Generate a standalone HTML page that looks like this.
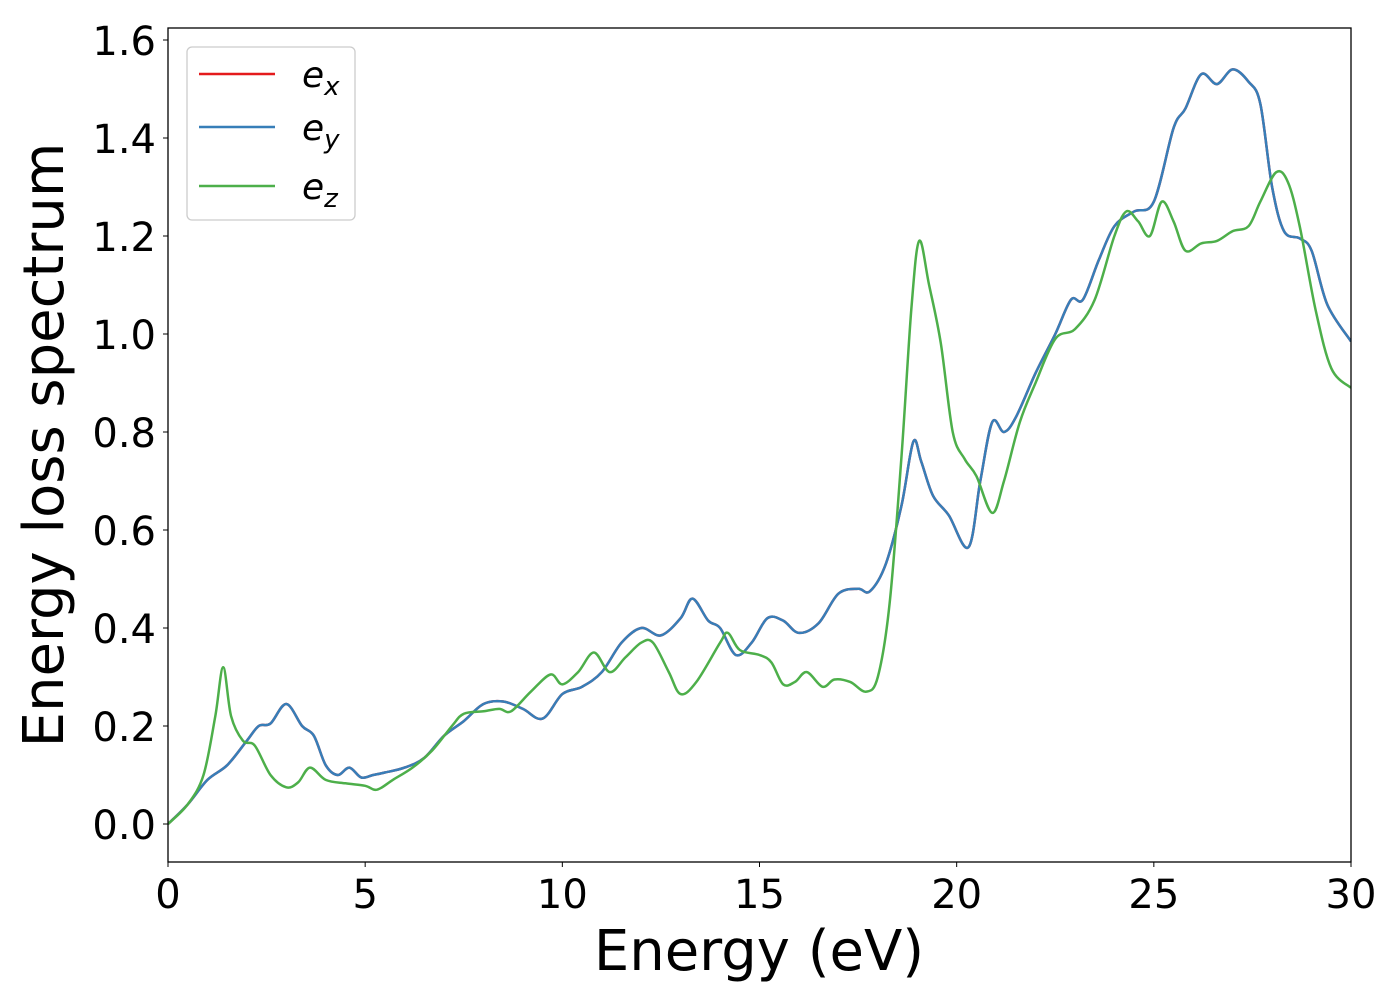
<!DOCTYPE html>
<html><head><meta charset="utf-8"><style>
html,body{margin:0;padding:0;background:#fff;}
svg text{font-family:"DejaVu Sans","Liberation Sans",sans-serif;fill:#000;}
</style></head><body>
<svg id="chart" width="1400" height="1000" xmlns="http://www.w3.org/2000/svg">
<defs><clipPath id="clip"><rect x="168" y="28" width="1183" height="834"/></clipPath></defs>
<rect x="0" y="0" width="1400" height="1000" fill="#fff"/>
<g id="grid-lines"></g>
<g id="series" clip-path="url(#clip)"></g>
<rect x="168" y="28" width="1183" height="834" fill="none" stroke="#000" stroke-width="1.3"/>
<g id="x-ticks"></g><g id="y-ticks"></g>
<text x="759" y="970" font-size="56" text-anchor="middle">Energy (eV)</text>
<text x="0" y="0" font-size="56" text-anchor="middle" transform="translate(63,445) rotate(-90)">Energy loss spectrum</text>
<g>
<rect x="187" y="47" width="168" height="173" rx="5" fill="#fff" stroke="#ccc" stroke-width="1.3"/>
<g><line x1="199" y1="74" x2="275" y2="74" stroke="#e41a1c" stroke-width="2.5"/><text x="302" y="87" font-size="36" font-style="italic">e<tspan font-size="26" dy="8">x</tspan></text></g>
<g><line x1="199" y1="127" x2="275" y2="127" stroke="#377eb8" stroke-width="2.5"/><text x="302" y="140" font-size="36" font-style="italic">e<tspan font-size="26" dy="8">y</tspan></text></g>
<g><line x1="199" y1="186" x2="275" y2="186" stroke="#4daf4a" stroke-width="2.5"/><text x="302" y="199" font-size="36" font-style="italic">e<tspan font-size="26" dy="8">z</tspan></text></g>
</g>
</svg>
<script>
const xTicks=[0,5,10,15,20,25,30];
const yTicks=[0.0,0.2,0.4,0.6,0.8,1.0,1.2,1.4,1.6];
const exyX=[0,0.5,1,1.5,2,2.3,2.6,3.0,3.4,3.7,4.0,4.3,4.6,4.9,5.2,5.5,6,6.5,7,7.5,8,8.5,9,9.5,10,10.5,11,11.5,12,12.5,13,13.3,13.7,14,14.4,14.8,15.2,15.6,16,16.5,17,17.5,17.8,18.2,18.6,18.9,19.1,19.4,19.8,20.3,20.6,20.9,21.2,21.5,22,22.5,22.9,23.2,23.6,24,24.5,25,25.5,25.8,26.2,26.6,27,27.4,27.7,28,28.3,28.7,29,29.4,30];
const exyY=[0,0.04,0.09,0.12,0.17,0.2,0.205,0.245,0.2,0.18,0.12,0.1,0.115,0.095,0.1,0.105,0.115,0.135,0.18,0.21,0.245,0.25,0.235,0.215,0.265,0.28,0.31,0.37,0.4,0.385,0.42,0.46,0.415,0.4,0.345,0.37,0.42,0.415,0.39,0.41,0.47,0.48,0.475,0.53,0.65,0.78,0.74,0.67,0.63,0.565,0.7,0.82,0.8,0.83,0.92,1.0,1.07,1.07,1.15,1.22,1.25,1.27,1.42,1.46,1.53,1.51,1.54,1.515,1.47,1.3,1.21,1.195,1.17,1.06,0.985];
const ezX=[0,0.5,0.9,1.2,1.4,1.6,1.9,2.2,2.6,3,3.3,3.6,4,4.5,5,5.3,5.7,6.2,6.7,7.2,7.5,8,8.4,8.7,9.2,9.7,10,10.4,10.8,11.2,11.6,12,12.3,12.7,13,13.4,14,14.2,14.5,15,15.3,15.6,15.9,16.2,16.6,16.9,17.3,17.7,18,18.3,18.6,18.85,19.05,19.3,19.6,19.9,20.2,20.5,20.9,21.2,21.6,22,22.5,23,23.5,24,24.3,24.6,24.9,25.2,25.5,25.8,26.2,26.6,27,27.4,27.7,28.1,28.4,28.7,29.1,29.5,30];
const ezY=[0,0.04,0.1,0.22,0.32,0.22,0.17,0.16,0.1,0.075,0.085,0.115,0.09,0.083,0.078,0.07,0.09,0.115,0.15,0.2,0.225,0.23,0.235,0.23,0.27,0.305,0.285,0.31,0.35,0.31,0.34,0.37,0.37,0.31,0.265,0.29,0.37,0.39,0.355,0.345,0.33,0.285,0.29,0.31,0.28,0.295,0.29,0.27,0.3,0.45,0.75,1.05,1.19,1.1,0.98,0.8,0.745,0.71,0.635,0.7,0.82,0.9,0.99,1.01,1.07,1.2,1.25,1.23,1.2,1.27,1.23,1.17,1.185,1.19,1.21,1.22,1.27,1.33,1.31,1.22,1.05,0.93,0.89];
const NS='http://www.w3.org/2000/svg';
const X0=168,X1=1351,Y0=824,YPER=490;
function sx(v){return X0+(v/30)*(X1-X0);}
function sy(v){return Y0-v*YPER;}
function pathD(xs,ys){
  const p=xs.map((x,i)=>[sx(x),sy(ys[i])]);
  let d='M'+p[0][0].toFixed(1)+','+p[0][1].toFixed(1);
  for(let i=0;i<p.length-1;i++){
    const a=p[Math.max(0,i-1)],b=p[i],c=p[i+1],e=p[Math.min(p.length-1,i+2)];
    const c1=[b[0]+(c[0]-a[0])/6,b[1]+(c[1]-a[1])/6],c2=[c[0]-(e[0]-b[0])/6,c[1]-(e[1]-b[1])/6];
    d+='C'+c1[0].toFixed(1)+','+c1[1].toFixed(1)+' '+c2[0].toFixed(1)+','+c2[1].toFixed(1)+' '+c[0].toFixed(1)+','+c[1].toFixed(1);
  }
  return d;
}
const g=document.getElementById('series');
function addLine(xs,ys,color,name){
  const el=document.createElementNS(NS,'path');
  el.setAttribute('d',pathD(xs,ys));
  el.setAttribute('fill','none');el.setAttribute('stroke',color);el.setAttribute('stroke-width','2.5');
  
  
  g.appendChild(el);
}
addLine(exyX,exyY,'#e41a1c','series-ex');
addLine(exyX,exyY,'#377eb8','series-ey');
addLine(ezX,ezY,'#4daf4a','series-ez');
const xt=document.getElementById('x-ticks');
xTicks.forEach(v=>{
  const l=document.createElementNS(NS,'line');
  l.setAttribute('x1',sx(v));l.setAttribute('x2',sx(v));l.setAttribute('y1',862);l.setAttribute('y2',867);l.setAttribute('stroke','#000');
  
  
  xt.appendChild(l);
  const t=document.createElementNS(NS,'text');
  t.setAttribute('x',sx(v));t.setAttribute('y',908);t.setAttribute('font-size','40');t.setAttribute('text-anchor','middle');
  t.textContent=String(v);
  
  
  xt.appendChild(t);
});
const yt=document.getElementById('y-ticks');
yTicks.forEach(v=>{
  const l=document.createElementNS(NS,'line');
  l.setAttribute('x1',163);l.setAttribute('x2',168);l.setAttribute('y1',sy(v));l.setAttribute('y2',sy(v));l.setAttribute('stroke','#000');
  
  
  yt.appendChild(l);
  const t=document.createElementNS(NS,'text');
  t.setAttribute('x',156);t.setAttribute('y',sy(v)+15);t.setAttribute('font-size','40');t.setAttribute('text-anchor','end');
  t.textContent=v.toFixed(1);
  
  
  yt.appendChild(t);
});
</script>
</body></html>
